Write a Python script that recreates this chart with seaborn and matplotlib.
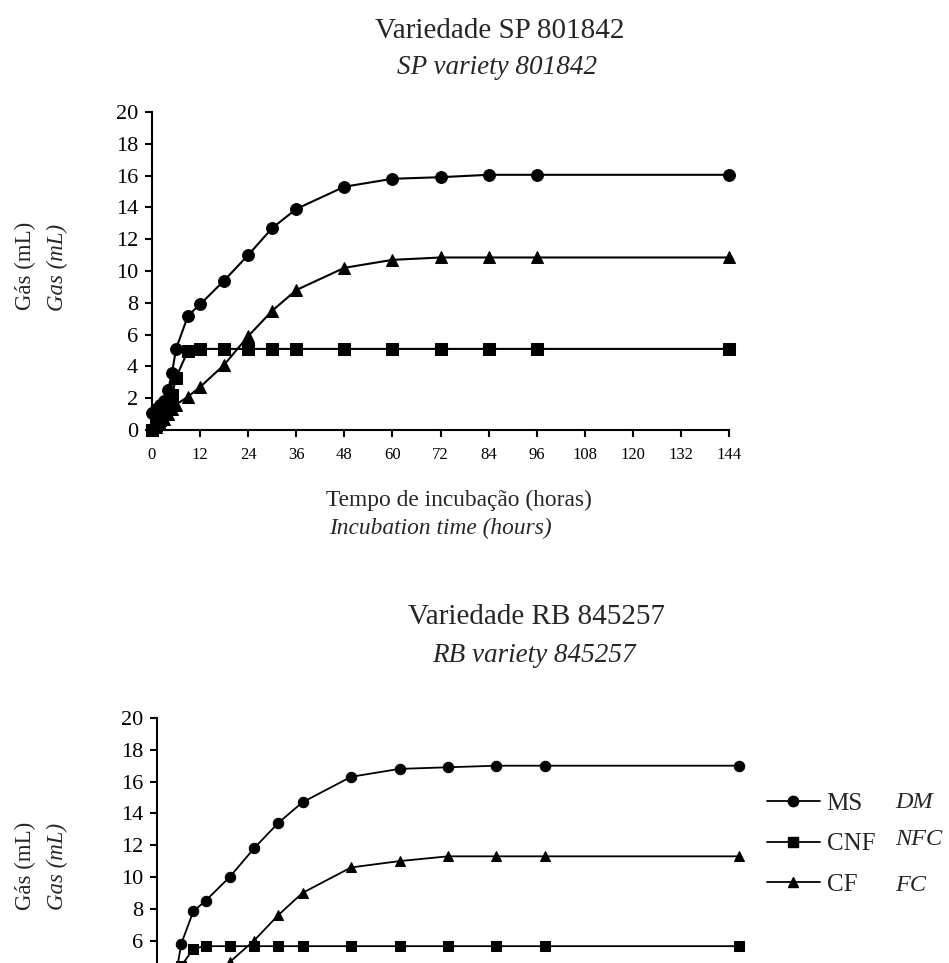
import numpy as np
import pandas as pd
import matplotlib
matplotlib.use("Agg")
import matplotlib.pyplot as plt
import seaborn as sns
from matplotlib.lines import Line2D

sns.set_theme(style="ticks")
plt.rcParams["font.family"] = ["Liberation Serif", "DejaVu Serif"]

# ---------------- data ----------------
hours = [0, 1, 2, 3, 4, 5, 6, 9, 12, 18, 24, 30, 36, 48, 60, 72, 84, 96, 144]
x_ticks = [0, 12, 24, 36, 48, 60, 72, 84, 96, 108, 120, 132, 144]
y_ticks = [0, 2, 4, 6, 8, 10, 12, 14, 16, 18, 20]

series_names = ["MS", "CNF", "CF"]
series_en = ["DM", "NFC", "FC"]

sp_ms = [1.1, 1.3, 1.6, 1.8, 2.5, 3.6, 5.1, 7.2, 7.9, 9.4, 11.0, 12.7, 13.9, 15.3, 15.8, 15.9, 16.05, 16.05, 16.05]
sp_cnf = [0.0, 0.3, 0.6, 1.0, 1.5, 2.2, 3.3, 5.0, 5.1, 5.1, 5.1, 5.1, 5.1, 5.1, 5.1, 5.1, 5.1, 5.1, 5.1]
sp_cf = [0.0, 0.2, 0.4, 0.7, 1.0, 1.3, 1.6, 2.1, 2.7, 4.1, 5.9, 7.5, 8.8, 10.2, 10.7, 10.85, 10.85, 10.85, 10.85]

rb_ms = [1.3, 1.7, 2.1, 2.6, 3.3, 4.3, 5.8, 7.85, 8.5, 10.0, 11.8, 13.4, 14.7, 16.3, 16.8, 16.9, 17.0, 17.0, 17.0]
rb_cnf = [0.0, 0.4, 0.8, 1.3, 2.0, 3.0, 4.4, 5.5, 5.65, 5.65, 5.65, 5.65, 5.65, 5.65, 5.65, 5.65, 5.65, 5.65, 5.65]
rb_cf = [0.0, 0.2, 0.5, 0.8, 1.1, 1.4, 1.8, 2.4, 3.0, 4.65, 6.0, 7.6, 9.0, 10.6, 11.0, 11.3, 11.3, 11.3, 11.3]

markers = {"MS": "o", "CNF": "s", "CF": "^"}


def make_df(ms, cnf, cf):
    return pd.concat([
        pd.DataFrame({"t": hours, "v": ms, "serie": "MS"}),
        pd.DataFrame({"t": hours, "v": cnf, "serie": "CNF"}),
        pd.DataFrame({"t": hours, "v": cf, "serie": "CF"}),
    ], ignore_index=True)


W, H = 949, 963
fig = plt.figure(figsize=(W / 100, H / 100), dpi=100)


def px_axes(left, right, top_px, bottom_px):
    return fig.add_axes([left / W, 1 - bottom_px / H, (right - left) / W, (bottom_px - top_px) / H])


def draw_panel(ax, df, ms_size, lw, show_xlabels=True, min_ylabel=0):
    for name in series_names:
        sub = df[df["serie"] == name]
        sns.lineplot(data=sub, x="t", y="v", ax=ax, color="black", linewidth=lw,
                     marker=markers[name], markersize=ms_size, markeredgecolor="black",
                     markerfacecolor="black", clip_on=False, legend=False,
                     errorbar=None, sort=True)
    ax.set_xlim(0, 144)
    ax.set_ylim(0, 20)
    ax.set_xticks(x_ticks)
    ax.set_yticks(y_ticks)
    if show_xlabels:
        ax.set_xticklabels([str(v) for v in x_ticks], fontsize=12)
    else:
        ax.set_xticklabels([])
    ax.set_yticklabels([str(v) if v >= min_ylabel else "" for v in y_ticks], fontsize=16)
    ax.set_xlabel("")
    ax.set_ylabel("")
    for s in ["top", "right"]:
        ax.spines[s].set_visible(False)
    for s in ["left", "bottom"]:
        ax.spines[s].set_linewidth(1.5)
        ax.spines[s].set_color("black")
    ax.tick_params(axis="both", direction="out", length=5, width=1.5, colors="black")
    ax.tick_params(axis="x", pad=7)
    ax.tick_params(axis="y", pad=5)
    ax.set_facecolor("white")


# ---------------- top panel ----------------
ax1 = px_axes(152, 729, 112, 430)
draw_panel(ax1, make_df(sp_ms, sp_cnf, sp_cf), 8.5, 1.5)

fig.text(500 / W, 1 - 31 / H, "Variedade SP 801842", ha="center", va="center", fontsize=21)
fig.text(497 / W, 1 - 67 / H, "SP variety 801842", ha="center", va="center", fontsize=19.5, style="italic")
fig.text(459 / W, 1 - 500 / H, "Tempo de incubação (horas)", ha="center", va="center", fontsize=16.8)
fig.text(440 / W, 1 - 528 / H, "Incubation time (hours)", ha="center", va="center", fontsize=16.8, style="italic")
fig.text(25 / W, 1 - 266 / H, "Gás (mL)", ha="center", va="center", fontsize=16.5, rotation=90)
fig.text(57 / W, 1 - 267 / H, "Gas (mL)", ha="center", va="center", fontsize=16.5, rotation=90, style="italic")

# ---------------- bottom panel (extends below the visible page) ----------------
ax2 = px_axes(157, 739, 718, 1036)
draw_panel(ax2, make_df(rb_ms, rb_cnf, rb_cf), 7.5, 1.3, show_xlabels=False, min_ylabel=6)

fig.text(536 / W, 1 - 617 / H, "Variedade RB 845257", ha="center", va="center", fontsize=21)
fig.text(534 / W, 1 - 655 / H, "RB variety 845257", ha="center", va="center", fontsize=19.5, style="italic")
fig.text(25 / W, 1 - 866 / H, "Gás (mL)", ha="center", va="center", fontsize=16.5, rotation=90)
fig.text(57 / W, 1 - 866 / H, "Gas (mL)", ha="center", va="center", fontsize=16.5, rotation=90, style="italic")

# legend
handles = [Line2D([0], [0], color="black", lw=1.3, marker=markers[n], markersize=7.5,
                  markerfacecolor="black", markeredgecolor="black") for n in series_names]
leg = fig.legend(handles, series_names, loc="center left",
                 bbox_to_anchor=(767 / W, 1 - 844 / H), frameon=False, fontsize=18,
                 handlelength=2.1, handletextpad=0.28, labelspacing=0.72, borderpad=0,
                 borderaxespad=0)
for en, y in zip(series_en, [802, 839, 885]):
    fig.text(895 / W, 1 - y / H, en, ha="left", va="center", fontsize=17.5, style="italic")

fig.savefig("out.png", dpi=100, facecolor="white")
